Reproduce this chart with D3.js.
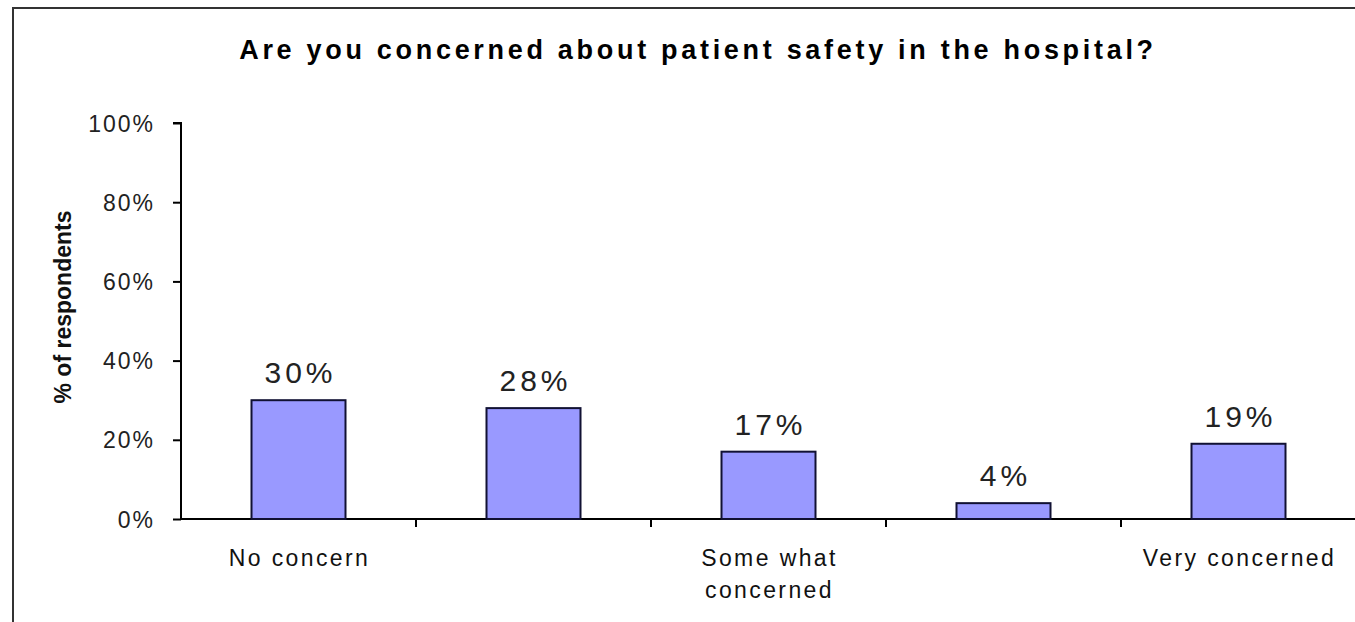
<!DOCTYPE html>
<html>
<head>
<meta charset="utf-8">
<script src="https://cdn.jsdelivr.net/npm/d3@7"></script>
<style>
  html, body { margin: 0; padding: 0; background: #fff; overflow: hidden; }
  svg { display: block; }
</style>
</head>
<body>
<svg id="chart" width="1355" height="622"></svg>
<script>
// Survey responses, 5-point scale
const categories = [1, 2, 3, 4, 5];
const categoryLabels = [["No concern"], [], ["Some what", "concerned"], [], ["Very concerned"]];
const values = [30, 28, 17, 4, 19];
const yTicks = [0, 20, 40, 60, 80, 100];
const titleText = "Are you concerned about patient safety in the hospital?";
const yTitle = "% of respondents";

const svg = d3.select("#chart");
const W = 1355, H = 622;

// outer frame
svg.append("rect")
  .attr("x", 13).attr("y", 8)
  .attr("width", W + 20).attr("height", H + 20)
  .attr("fill", "#fff").attr("stroke", "#333").attr("stroke-width", 2);

const plot = { left: 181, right: 1356, top: 123, bottom: 519 };

const x = d3.scaleBand().domain(categories).range([plot.left, plot.right]).paddingInner(0.6).paddingOuter(0.3);
const xTick = d3.scaleLinear().domain([0, categories.length]).range([plot.left, plot.right]);
const y = d3.scaleLinear().domain([0, 100]).range([plot.bottom, plot.top]);

const fontReg = "Liberation Sans, Arial, sans-serif";

// title
svg.append("text")
  .attr("x", 698).attr("y", 59)
  .attr("text-anchor", "middle")
  .attr("font-family", fontReg).attr("font-weight", "bold")
  .attr("font-size", 27).attr("letter-spacing", 3.7)
  .attr("fill", "#000")
  .text(titleText);

// y axis
const yAxis = svg.append("g")
  .attr("transform", `translate(${plot.left},0)`)
  .call(d3.axisLeft(y).tickValues(yTicks).tickSize(8).tickPadding(18).tickFormat(d => d + "%"));
yAxis.select(".domain").attr("stroke", "#000").attr("stroke-width", 2).attr("d", `M-8,${plot.top}H0V${plot.bottom}`);
yAxis.selectAll(".tick line").attr("stroke", "#000").attr("stroke-width", 2);
yAxis.selectAll(".tick text")
  .attr("font-family", fontReg).attr("font-size", 23).attr("letter-spacing", 2)
  .attr("fill", "#222").attr("dy", "0.35em");

// y axis title
svg.append("text")
  .attr("transform", "translate(71,307) rotate(-90)")
  .attr("text-anchor", "middle")
  .attr("font-family", "Liberation Sans Narrow, Arial Narrow, sans-serif")
  .attr("font-weight", "bold").attr("font-size", 23)
  .attr("fill", "#111")
  .text(yTitle);

// x axis line and category separators
svg.append("line")
  .attr("x1", plot.left).attr("x2", W)
  .attr("y1", plot.bottom).attr("y2", plot.bottom)
  .attr("stroke", "#000").attr("stroke-width", 2);
svg.selectAll(".xtick")
  .data(d3.range(1, categories.length))
  .join("line")
  .attr("class", "xtick")
  .attr("x1", d => xTick(d)).attr("x2", d => xTick(d))
  .attr("y1", plot.bottom).attr("y2", plot.bottom + 8)
  .attr("stroke", "#000").attr("stroke-width", 2);

// bars
svg.selectAll(".bar")
  .data(values)
  .join("rect")
  .attr("class", "bar")
  .attr("x", (d, i) => x(categories[i]))
  .attr("y", d => y(d))
  .attr("width", x.bandwidth())
  .attr("height", d => y(0) - y(d))
  .attr("fill", "#9999ff")
  .attr("stroke", "#111133").attr("stroke-width", 2);

// value labels
svg.selectAll(".val")
  .data(values)
  .join("text")
  .attr("class", "val")
  .attr("x", (d, i) => x(categories[i]) + x.bandwidth() / 2 + 2)
  .attr("y", d => y(d) - 17)
  .attr("text-anchor", "middle")
  .attr("font-family", fontReg).attr("font-size", 30).attr("letter-spacing", 4)
  .attr("fill", "#222")
  .text(d => d + "%");

// category labels
const catG = svg.selectAll(".cat")
  .data(categoryLabels)
  .join("text")
  .attr("class", "cat")
  .attr("text-anchor", "middle")
  .attr("font-family", fontReg).attr("font-size", 23).attr("letter-spacing", 2.4)
  .attr("fill", "#111");
catG.each(function(lines, i) {
  const cx = x(categories[i]) + x.bandwidth() / 2 + 1;
  d3.select(this).selectAll("tspan")
    .data(lines)
    .join("tspan")
    .attr("x", cx)
    .attr("y", (l, j) => plot.bottom + 47 + j * 32)
    .text(l => l);
});
</script>
</body>
</html>
